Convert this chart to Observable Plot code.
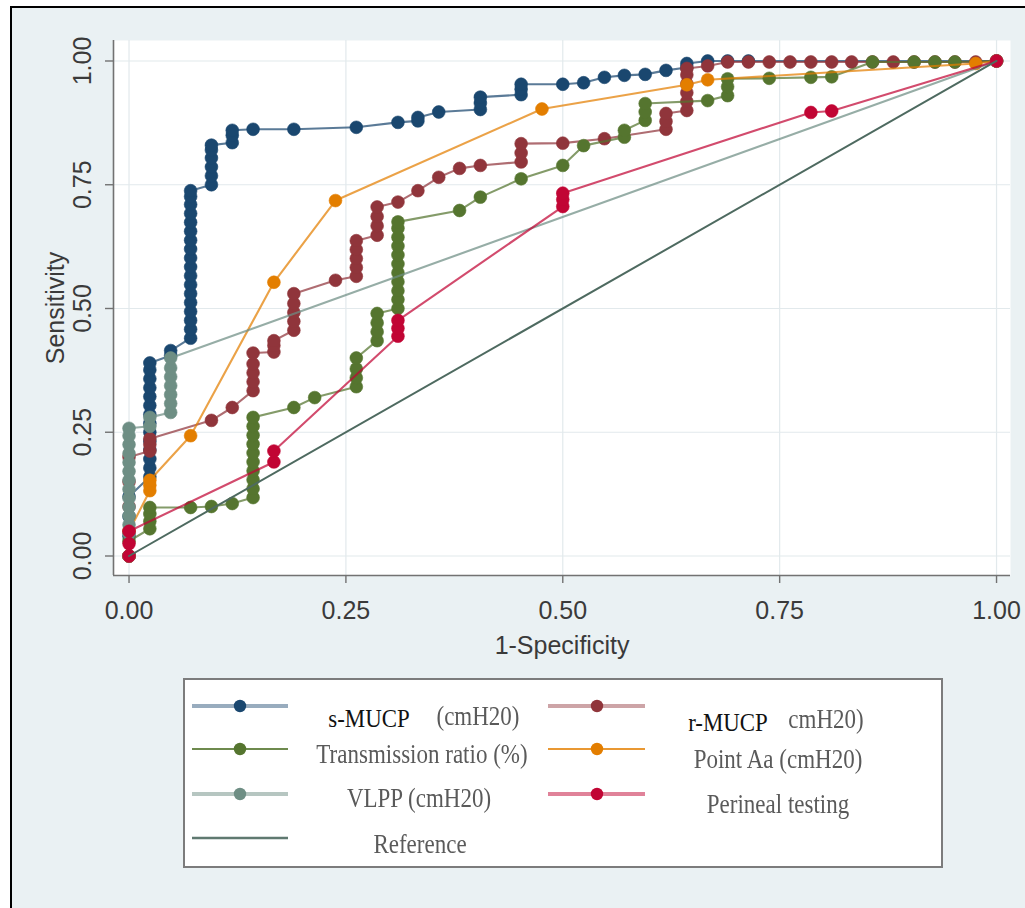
<!DOCTYPE html>
<html><head><meta charset="utf-8">
<script src="https://cdn.jsdelivr.net/npm/d3@7"></script>
<script src="https://cdn.jsdelivr.net/npm/@observablehq/plot@0.6"></script>
<style>
html,body{margin:0;padding:0;background:#fff;}
#page{position:relative;width:1025px;height:908px;overflow:hidden;background:#fff;}
#bg{position:absolute;left:10px;top:6px;right:0;bottom:0;background:#eaf1f3;border-left:2px solid #000;border-top:2px solid #000;}
#chart{position:absolute;left:0;top:0;}
#legend{position:absolute;left:183px;top:678px;width:760px;height:190px;box-sizing:border-box;border:2px solid #7c7c7c;background:#fff;}
#legend svg{position:absolute;left:0;top:0;}
.lt{position:absolute;font-family:"Liberation Serif","Times New Roman",serif;white-space:nowrap;line-height:1;}
.grey{color:#5a5a5a;font-size:23px;filter:blur(0.45px);transform:translate(-50%,-50%) scaleY(1.2);}
.blk{color:#111;font-size:26px;transform:translate(-50%,-50%) scaleX(0.88);}
</style></head>
<body><div id="page"><div id="bg"></div><div id="chart"></div><div id="legend"></div></div>
<script>
// ---- data (1-specificity, sensitivity) ----
const sMUCP = [[0,0],[0,0.04],[0,0.08],[0,0.12],
 [0.024,0.16],[0.024,0.178],[0.024,0.196],[0.024,0.214],[0.024,0.232],[0.024,0.25],[0.024,0.268],[0.024,0.286],[0.024,0.304],[0.024,0.322],[0.024,0.34],[0.024,0.358],[0.024,0.376],[0.024,0.39],
 [0.048,0.405],[0.048,0.415],
 [0.071,0.44],[0.071,0.458],[0.071,0.476],[0.071,0.494],[0.071,0.512],[0.071,0.53],[0.071,0.548],[0.071,0.566],[0.071,0.584],[0.071,0.602],[0.071,0.62],[0.071,0.638],[0.071,0.656],[0.071,0.674],[0.071,0.692],[0.071,0.71],[0.071,0.726],[0.071,0.738],
 [0.095,0.75],[0.095,0.768],[0.095,0.786],[0.095,0.804],[0.095,0.82],[0.095,0.83],
 [0.119,0.835],[0.119,0.85],[0.119,0.86],
 [0.143,0.862],[0.19,0.862],[0.262,0.866],[0.31,0.876],[0.333,0.879],[0.333,0.886],[0.357,0.897],
 [0.405,0.902],[0.405,0.915],[0.405,0.927],[0.452,0.932],[0.452,0.943],[0.452,0.953],
 [0.5,0.953],[0.524,0.956],[0.548,0.967],[0.571,0.971],[0.595,0.973],[0.619,0.981],[0.643,0.987],[0.643,0.995],
 [0.667,1],[0.69,1],[0.714,1],[1,1]];
const rMUCP = [[0,0],[0,0.05],[0,0.1],[0,0.15],[0,0.2],[0.024,0.212],[0.024,0.225],[0.024,0.237],[0.095,0.274],[0.119,0.3],
 [0.143,0.334],[0.143,0.352],[0.143,0.37],[0.143,0.388],[0.143,0.41],[0.167,0.412],[0.167,0.425],[0.167,0.435],
 [0.19,0.456],[0.19,0.474],[0.19,0.492],[0.19,0.51],[0.19,0.53],[0.238,0.557],
 [0.262,0.565],[0.262,0.583],[0.262,0.601],[0.262,0.619],[0.262,0.637],[0.286,0.648],[0.286,0.667],[0.286,0.686],[0.286,0.705],
 [0.31,0.715],[0.333,0.738],[0.357,0.765],[0.381,0.783],[0.405,0.789],[0.452,0.796],[0.452,0.814],[0.452,0.833],
 [0.5,0.834],[0.548,0.843],[0.619,0.862],[0.619,0.878],[0.619,0.894],[0.643,0.9],[0.643,0.918],[0.643,0.936],[0.643,0.954],[0.643,0.972],[0.643,0.985],
 [0.667,0.99],[0.69,0.998],[0.714,0.998],[0.738,0.998],[0.762,0.998],[0.786,0.998],[0.81,0.998],[0.833,0.998],
 [0.857,0.998],[0.881,0.998],[0.905,0.998],[0.929,0.998],[0.952,0.998],[0.976,0.998],[1,1]];
const transRatio = [[0,0],[0,0.03],[0.024,0.055],[0.024,0.07],[0.024,0.085],[0.024,0.098],[0.071,0.098],[0.095,0.1],[0.119,0.106],
 [0.143,0.118],[0.143,0.136],[0.143,0.154],[0.143,0.172],[0.143,0.19],[0.143,0.208],[0.143,0.226],[0.143,0.244],[0.143,0.262],[0.143,0.28],
 [0.19,0.3],[0.214,0.32],[0.262,0.342],[0.262,0.36],[0.262,0.378],[0.262,0.4],[0.286,0.435],[0.286,0.453],[0.286,0.471],[0.286,0.49],
 [0.31,0.5],[0.31,0.518],[0.31,0.536],[0.31,0.554],[0.31,0.572],[0.31,0.59],[0.31,0.608],[0.31,0.626],[0.31,0.644],[0.31,0.662],[0.31,0.675],
 [0.381,0.698],[0.405,0.725],[0.452,0.762],[0.5,0.789],[0.524,0.829],[0.571,0.846],[0.571,0.86],
 [0.595,0.88],[0.595,0.897],[0.595,0.914],[0.667,0.92],[0.69,0.93],[0.69,0.948],[0.69,0.964],
 [0.738,0.965],[0.786,0.967],[0.81,0.968],[0.857,0.998],[0.905,0.998],[0.929,0.998],[0.952,0.998],[1,1]];
const pointAa = [[0,0],[0,0.05],[0.024,0.132],[0.024,0.143],[0.024,0.153],[0.071,0.243],[0.167,0.553],[0.238,0.718],
 [0.476,0.903],[0.643,0.952],[0.667,0.962],[0.976,0.995],[1,1]];
const vlpp = [[0,0],[0,0.045],[0,0.063],[0,0.081],[0,0.099],[0,0.117],[0,0.135],[0,0.153],[0,0.171],[0,0.189],[0,0.207],[0,0.225],[0,0.243],[0,0.258],
 [0.024,0.262],[0.024,0.28],[0.048,0.29],[0.048,0.308],[0.048,0.326],[0.048,0.344],[0.048,0.362],[0.048,0.38],[0.048,0.4],[1,1]];
const perineal = [[0,0],[0,0.025],[0,0.05],[0.167,0.19],[0.167,0.212],[0.31,0.444],[0.31,0.46],[0.31,0.476],
 [0.5,0.706],[0.5,0.72],[0.5,0.733],[0.786,0.896],[0.81,0.899],[1,1]];
const reference = [[0,0],[1,1]];

const seriesNames = ["s-MUCP", "r-MUCP", "Transmission ratio (%)", "Point Aa (cmH20)", "VLPP (cmH20)", "Perineal testing"];
const seriesUnits = ["(cmH20)", "cmH20)", "", "", "", ""];
const referenceName = "Reference";
const seriesColors = ["#1a476f", "#90353b", "#55752f", "#e37e00", "#6e8e84", "#c10534"];
const referenceColor = "#4e6a60";
const xTicks = [0, 0.25, 0.5, 0.75, 1];
const yTicks = [0, 0.25, 0.5, 0.75, 1];
const xTitle = "1-Specificity";
const yTitle = "Sensitivity";

// ---- chart ----
const allSeries = [sMUCP, rMUCP, transRatio, pointAa, vlpp, perineal];
const rows = allSeries.flatMap((s, k) => s.map(([x, y]) => ({k, x, y})));
const refRows = reference.map(([x, y]) => ({x, y}));
const xMin = -0.0179, xMax = 1.0161, yMin = -0.0394, yMax = 1.0414;
const FONT = "Liberation Sans, Arial, sans-serif";

const seriesMarks = seriesNames.flatMap((name, k) => {
  const d = rows.filter(r => r.k === k);
  return [
    Plot.line(d, {x: "x", y: "y", stroke: seriesColors[k], strokeWidth: 2.1, strokeOpacity: 0.72}),
    Plot.dot(d, {x: "x", y: "y", r: 6.4, fill: seriesColors[k], stroke: seriesColors[k], strokeWidth: 0.6})
  ];
});

const svg = Plot.plot({
  width: 1025, height: 670,
  marginTop: 40, marginLeft: 113, marginRight: 15, marginBottom: 95,
  style: {background: "transparent", fontFamily: FONT, overflow: "visible"},
  x: {domain: [xMin, xMax]},
  y: {domain: [yMin, yMax]},
  marks: [
    Plot.frame({fill: "white", stroke: "none"}),
    Plot.ruleX(xTicks, {stroke: "#e2e9ec", strokeWidth: 1.2}),
    Plot.ruleY(yTicks, {stroke: "#e2e9ec", strokeWidth: 1.2}),
    ...seriesMarks,
    Plot.line(refRows, {x: "x", y: "y", stroke: referenceColor, strokeWidth: 2}),
    Plot.ruleY([yMin], {stroke: "#727272", strokeWidth: 1.6}),
    Plot.ruleX([xMin], {stroke: "#727272", strokeWidth: 1.6}),
    Plot.axisX({ticks: xTicks, tickSize: 8, tickFormat: () => "", label: null, stroke: "#727272", strokeWidth: 1.4}),
    Plot.axisY({ticks: yTicks, tickSize: 8, tickFormat: () => "", label: null, stroke: "#727272", strokeWidth: 1.4}),
    Plot.text(xTicks, {x: d => d, y: yMin, dy: 35, text: d => d.toFixed(2), fontSize: 25, fill: "#3a3a3a", lineAnchor: "middle", fontFamily: FONT, ariaLabel: "xticklabels"}),
    Plot.text(yTicks, {x: xMin, y: d => d, dx: -31, rotate: -90, text: d => d.toFixed(2), fontSize: 25, fill: "#3a3a3a", lineAnchor: "middle", textAnchor: "middle", fontFamily: FONT, ariaLabel: "yticklabels"}),
    Plot.text([xTitle], {frameAnchor: "bottom", dy: 70, text: d => d, fontSize: 25, fill: "#3a3a3a", lineAnchor: "middle", textAnchor: "middle", fontFamily: FONT, ariaLabel: "xtitle"}),
    Plot.text([yTitle], {frameAnchor: "left", dx: -58, rotate: -90, text: d => d, fontSize: 25, fill: "#3a3a3a", lineAnchor: "middle", textAnchor: "middle", fontFamily: FONT, ariaLabel: "ytitle"})
  ]
});

function stretch(label, sx, sy) {
  svg.querySelectorAll(`g[aria-label="${label}"] text`).forEach(t => {
    const x = +(t.getAttribute("x") || 0), y = +(t.getAttribute("y") || 0);
    const old = t.getAttribute("transform") || "";
    t.setAttribute("transform", `${old} translate(${x},${y}) scale(${sx},${sy}) translate(${-x},${-y})`);
  });
}
stretch("xticklabels", 1, 1.2);
stretch("xtitle", 1, 1.2);
stretch("yticklabels", 1.2, 1);
stretch("ytitle", 1.2, 1);
document.getElementById("chart").appendChild(svg);

// ---- legend ----
const legend = document.getElementById("legend");
const NS = "http://www.w3.org/2000/svg";
const lsvg = document.createElementNS(NS, "svg");
lsvg.setAttribute("width", 756); lsvg.setAttribute("height", 186);
legend.appendChild(lsvg);
const colLine = [[7, 103, 55], [363, 460, 412]];
const rowY = [26, 69, 114, 158];
const lineStyle = [[3.8, 0.45], [3.8, 0.45], [2.2, 0.85], [2.2, 0.8], [3.8, 0.5], [3.8, 0.5]];
const textPos = [[237, 74], [593, 79], [237, 74], [593, 79], [234, 118], [593, 124]];
function sym(col, row, color, sw, op, dot) {
  const [x1, x2, xm] = colLine[col], y = rowY[row];
  const l = document.createElementNS(NS, "line");
  l.setAttribute("x1", x1); l.setAttribute("x2", x2); l.setAttribute("y1", y); l.setAttribute("y2", y);
  l.setAttribute("stroke", color); l.setAttribute("stroke-width", sw); l.setAttribute("stroke-opacity", op);
  lsvg.appendChild(l);
  if (dot) {
    const c = document.createElementNS(NS, "circle");
    c.setAttribute("cx", xm); c.setAttribute("cy", y); c.setAttribute("r", 6.2); c.setAttribute("fill", color);
    lsvg.appendChild(c);
  }
}
function txt(s, cls, x, y) {
  const e = document.createElement("span");
  e.className = "lt " + cls; e.textContent = s;
  e.style.left = x + "px"; e.style.top = y + "px";
  legend.appendChild(e);
}
seriesNames.forEach((name, k) => {
  const col = k % 2, row = Math.floor(k / 2);
  sym(col, row, seriesColors[k], lineStyle[k][0], lineStyle[k][1], true);
});
sym(0, 3, referenceColor, 2.4, 0.9, false);
txt(seriesNames[0], "blk", 184, 39);
txt(seriesUnits[0], "grey", 293, 36);
txt(seriesNames[1], "blk", 543, 43);
txt(seriesUnits[1], "grey", 641, 39);
for (let k = 2; k < seriesNames.length; k++) txt(seriesNames[k], "grey", textPos[k][0], textPos[k][1]);
txt(referenceName, "grey", 235, 164);
</script></body></html>
